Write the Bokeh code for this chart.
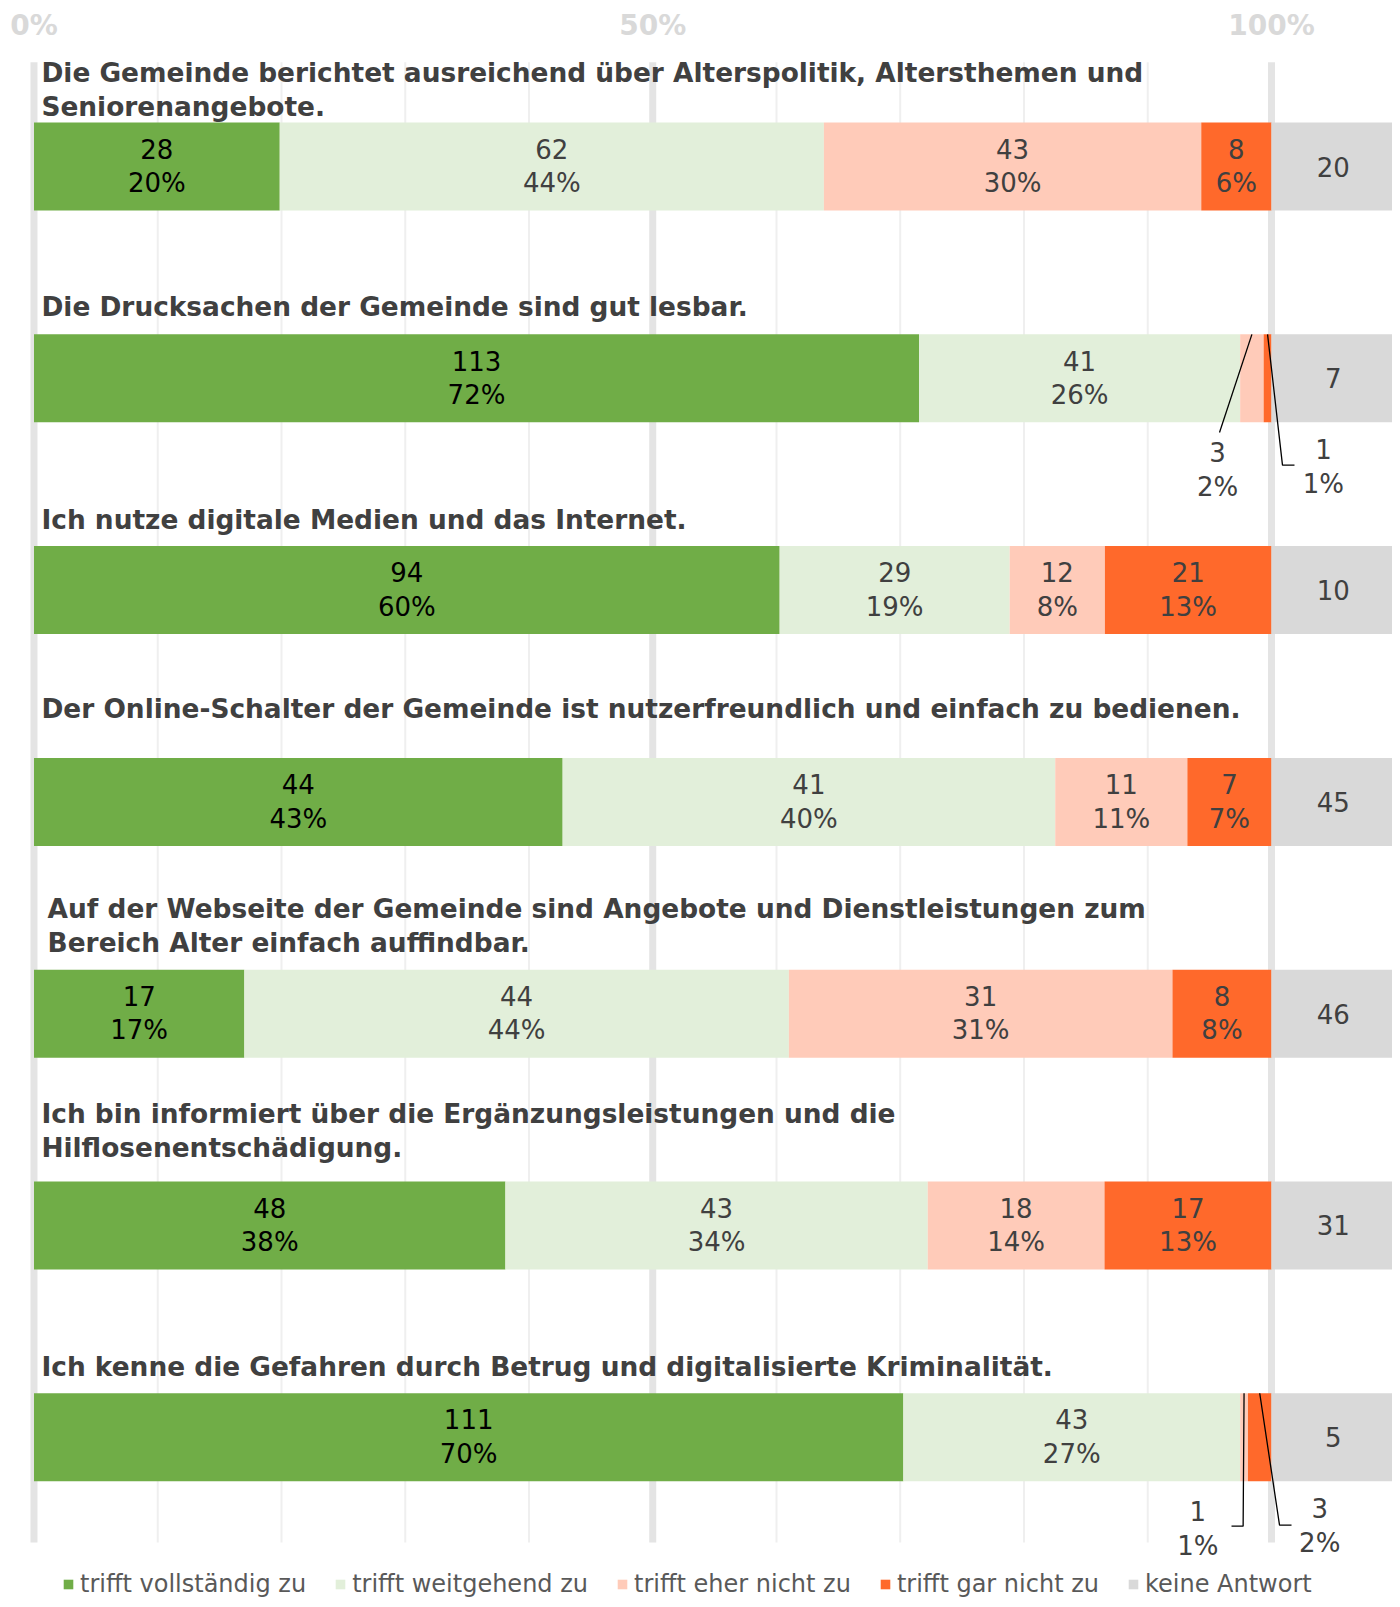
from bokeh.plotting import figure
from bokeh.models import Range1d, ColumnDataSource, Legend, LegendItem
from bokeh.core.properties import value
from bokeh.embed import file_html
from bokeh.resources import INLINE

# ---------------- data ----------------
questions = [
    "Die Gemeinde berichtet ausreichend über Alterspolitik, Altersthemen und\nSeniorenangebote.",
    "Die Drucksachen der Gemeinde sind gut lesbar.",
    "Ich nutze digitale Medien und das Internet.",
    "Der Online-Schalter der Gemeinde ist nutzerfreundlich und einfach zu bedienen.",
    "Auf der Webseite der Gemeinde sind Angebote und Dienstleistungen zum\nBereich Alter einfach auffindbar.",
    "Ich bin informiert über die Ergänzungsleistungen und die\nHilflosenentschädigung.",
    "Ich kenne die Gefahren durch Betrug und digitalisierte Kriminalität.",
]
categories = ["trifft vollständig zu", "trifft weitgehend zu", "trifft eher nicht zu", "trifft gar nicht zu"]
no_answer_label = "keine Antwort"

voll = [28, 113, 94, 44, 17, 48, 111]
weit = [62, 41, 29, 41, 44, 43, 43]
eher = [43, 3, 12, 11, 31, 18, 1]
gar = [8, 1, 21, 7, 8, 17, 3]
keine = [20, 7, 10, 45, 46, 31, 5]

pct_voll = [20, 72, 60, 43, 17, 38, 70]
pct_weit = [44, 26, 19, 40, 44, 34, 27]
pct_eher = [30, 2, 8, 11, 31, 14, 1]
pct_gar = [6, 1, 13, 7, 8, 13, 2]

tick_values = [0, 50, 100]
tick_labels = ["0%", "50%", "100%"]
grid_values = [0, 10, 20, 30, 40, 50, 60, 70, 80, 90, 100, 110]

# ---------------- layout / style ----------------
colors = ["#70AD47", "#E2EFDA", "#FFCBB9", "#FF692B"]
na_color = "#D9D9D9"
label_colors = ["#000000", "#404040", "#404040", "#404040"]
FONT = "DejaVu Sans"
BAR_H = 0.4155
NA_LEFT, NA_RIGHT = 100, 110
title_x = [0.6, 0.6, 0.6, 0.6, 1.1, 0.6, 0.6]
title_dy = [-0.365, -0.337, -0.334, -0.44, -0.416, -0.448, -0.334]
# callouts: (row, category, elbow_x, elbow_dy, tail_x, label_x, label_dy)
callouts = [
    (1, 2, 95.80, 0.256, 95.80, 95.64, 0.433),
    (1, 3, 100.89, 0.41, 101.86, 104.2, 0.42),
    (6, 2, 97.71, 0.42, 96.77, 94.05, 0.434),
    (6, 3, 100.65, 0.415, 101.62, 103.9, 0.42),
]

W, H = 1392, 1599
p = figure(width=W, height=H, output_backend="svg", toolbar_location=None,
           x_range=Range1d(-2.707, 109.78), y_range=Range1d(6.766, -0.784),
           x_axis_type=None, y_axis_type=None, min_border=0,
           min_border_left=0, min_border_right=0, min_border_top=0, min_border_bottom=0)
p.outline_line_color = None
p.grid.visible = False
p.background_fill_color = "white"

rows = list(range(len(questions)))
counts = [voll, weit, eher, gar]
pcts = [pct_voll, pct_weit, pct_eher, pct_gar]
answered = [sum(c[i] for c in counts) for i in rows]
shares = [[c[i] / answered[i] * 100 for i in rows] for c in counts]

# grid lines
grid_src = ColumnDataSource(dict(x=grid_values,
                                 w=[7 if g in tick_values else 2 for g in grid_values],
                                 c=["#E4E4E4" if g in tick_values else "#EFEFEF" for g in grid_values]))
p.segment(x0="x", x1="x", y0=-0.493, y1=6.497, line_width="w", line_color="c", source=grid_src)

# stacked bars
data = dict(row=rows)
for k, name in enumerate(categories):
    data[name] = shares[k]
src = ColumnDataSource(data)
renderers = p.hbar_stack(categories, y="row", height=BAR_H, color=colors, source=src,
                         line_color=None)
na_r = p.hbar(y=rows, left=NA_LEFT, right=NA_RIGHT, height=BAR_H, color=na_color, line_color=None)

# segment labels
callout_keys = {(c[0], c[1]) for c in callouts}
lx, ly, lt, lc = [], [], [], []
for i in rows:
    cum = 0
    for k in range(4):
        w = shares[k][i]
        if (i, k) not in callout_keys:
            lx.append(cum + w / 2)
            ly.append(i)
            lt.append(f"{counts[k][i]}\n{pcts[k][i]}%")
            lc.append(label_colors[k])
        cum += w
p.text(x=lx, y=ly, text=lt, text_color=lc, text_align="center", text_baseline="middle",
       text_font=value(FONT), text_font_size="26px", text_line_height=1.12)

# no-answer labels
p.text(x=[(NA_LEFT + NA_RIGHT) / 2] * len(rows), y=rows, text=[str(v) for v in keine],
       text_color="#404040", text_align="center", text_baseline="middle",
       text_font=value(FONT), text_font_size="26px")

# callouts
cx, cy, ct, xs, ys = [], [], [], [], []
for (i, k, ex, edy, tx, lxx, ldy) in callouts:
    start = sum(shares[j][i] for j in range(k)) + shares[k][i] / 2
    xs.append([start, ex, tx])
    ys.append([i - BAR_H / 2, i + edy, i + edy])
    cx.append(lxx)
    cy.append(i + ldy)
    ct.append(f"{counts[k][i]}\n{pcts[k][i]}%")
p.multi_line(xs=xs, ys=ys, line_color="black", line_width=1.3)
p.text(x=cx, y=cy, text=ct, text_color="#404040", text_align="center", text_baseline="middle",
       text_font=value(FONT), text_font_size="26px", text_line_height=1.12)

# titles
p.text(x=title_x, y=[i + d for i, d in zip(rows, title_dy)], text=questions,
       text_color="#404040", text_align="left", text_baseline="middle",
       text_font=value(FONT), text_font_style="bold", text_font_size="26.4px",
       text_line_height=1.1)

# top tick labels
p.text(x=tick_values, y=[-0.668] * len(tick_values), text=tick_labels, text_color="#D9D9D9",
       text_align="center", text_baseline="middle", text_font=value(FONT),
       text_font_style="bold", text_font_size="28px")

# legend
items = [LegendItem(label=name, renderers=[r]) for name, r in zip(categories, renderers)]
items.append(LegendItem(label=no_answer_label, renderers=[na_r]))
legend = Legend(items=items, orientation="horizontal", location=(62, 1),
                glyph_width=12, glyph_height=12, label_standoff=6, spacing=28,
                padding=0, margin=0, border_line_color=None, background_fill_alpha=0,
                label_text_font=FONT, label_text_font_size="24px", label_text_color="#595959")
p.add_layout(legend, "center")

open("out.html", "w").write(file_html(p, INLINE))
